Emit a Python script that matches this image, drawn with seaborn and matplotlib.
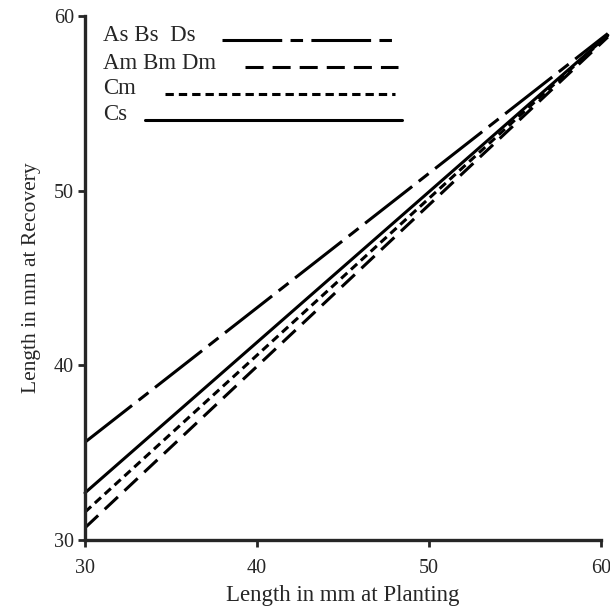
import pandas as pd
import matplotlib.pyplot as plt
import seaborn as sns

# values (length at planting -> length at recovery)
x_ends = [30, 60.4]
y_as_bs_ds = [35.6, 59.0]
y_am_bm_dm = [30.7, 58.8]
y_cm = [31.6, 58.9]
y_cs = [32.7, 58.9]

groups = ["As Bs  Ds", "Am Bm Dm", "Cm", "Cs"]
series = [y_as_bs_ds, y_am_bm_dm, y_cm, y_cs]

x_ticks = [30, 40, 50, 60]
y_ticks = [30, 40, 50, 60]

# dash patterns in points (not scaled by line width)
dash_styles = {
    "As Bs  Ds": (43, 6, 9, 6),
    "Am Bm Dm": (13, 6.5),
    "Cm": (6, 3.6),
    "Cs": "",
}


def build_frame():
    rows = []
    for name, ys in zip(groups, series):
        for x, y in zip(x_ends, ys):
            rows.append({"planting": x, "recovery": y, "group": name})
    return pd.DataFrame(rows)


def plot_lengths(df):
    fig = plt.figure(figsize=(6.1, 6.08), dpi=100)
    ax = fig.add_axes([0.1393, 0.1118, 0.8459, 0.8618])

    sns.lineplot(data=df, x="planting", y="recovery", style="group",
                 dashes=dash_styles, color="black", linewidth=2.2,
                 legend=False, ax=ax, clip_on=False, sort=False)

    ax.set_xlim(30, 60)
    ax.set_ylim(30, 60)
    ax.set_xticks(x_ticks)
    ax.set_yticks(y_ticks)
    ax.tick_params(direction="out", length=5, width=2, labelsize=14.5, pad=3)
    ax.tick_params(axis="x", pad=9)
    sns.despine(ax=ax)
    for side in ["left", "bottom"]:
        ax.spines[side].set_linewidth(2.4)

    ax.set_xlabel("Length in mm at Planting", fontsize=16.5, labelpad=5)
    ax.set_ylabel("Length in mm at Recovery", fontsize=15.5, labelpad=9)

    # hand-drawn style key in the upper left corner
    key_text_y = [0.962, 0.910, 0.861, 0.813]
    key_line_y = [0.955, 0.902, 0.852, 0.801]
    key_line_x0 = [0.2655, 0.310, 0.155, 0.116]
    key_line_x1 = [0.6066, 0.607, 0.601, 0.614]
    for i, name in enumerate(groups):
        ax.text(0.035, key_text_y[i], name, transform=ax.transAxes,
                fontsize=16.5, va="center", ha="left")
        ls = (0, dash_styles[name]) if dash_styles[name] else "-"
        ax.plot([key_line_x0[i], key_line_x1[i]], [key_line_y[i]] * 2,
                transform=ax.transAxes, color="black", linewidth=2.2,
                linestyle=ls)

    fig.savefig("out.png", dpi=100)


if __name__ == "__main__":
    sns.set_style("ticks")
    plt.rcParams["font.family"] = ["Liberation Serif", "DejaVu Serif"]
    plt.rcParams["lines.scale_dashes"] = False
    plot_lengths(build_frame())
